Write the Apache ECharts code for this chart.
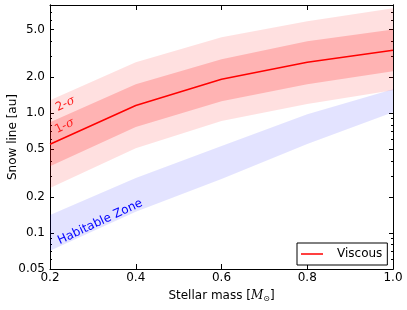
<!DOCTYPE html>
<html>
<head>
<meta charset="utf-8">
<script src="https://cdn.jsdelivr.net/npm/echarts@6/dist/echarts.min.js"></script>
<style>html,body{margin:0;padding:0;background:#fff}#c{width:407px;height:310px}</style>
</head>
<body>
<div id="c"></div>
<script>
// ---- data ----
const mass = [0.2, 0.4, 0.6, 0.8, 1.0];
const snowLine = [0.55, 1.16, 1.92, 2.66, 3.35];
const sigma1Low = [0.36, 0.765, 1.26, 1.74, 2.24];
const sigma1High = [0.84, 1.74, 2.82, 3.98, 5.0];
const sigma2Low = [0.237, 0.51, 0.86, 1.19, 1.55];
const sigma2High = [1.28, 2.66, 4.3, 5.84, 7.5];
const hzInner = [0.071, 0.15, 0.282, 0.552, 1.02];
const hzOuter = [0.141, 0.287, 0.531, 0.98, 1.58];
const xTicks = [0.2, 0.4, 0.6, 0.8, 1.0];
const yMajorTicks = [0.05, 0.1, 0.2, 0.5, 1, 2, 5];
const yMinorTicks = [0.06, 0.07, 0.08, 0.09, 0.3, 0.4, 0.6, 0.7, 0.8, 0.9, 3, 4, 6, 7, 8];

const FONT = 'DejaVu Sans';
const chart = echarts.init(document.getElementById('c'), null, {renderer: 'canvas'});

function band(lower, upper, color) {
  return {
    type: 'custom', xAxisIndex: 0, yAxisIndex: 0, clip: true, silent: true,
    data: [[mass[0], lower[0]]],
    encode: {x: 0, y: 1},
    renderItem: function (params, api) {
      const pts = [];
      for (let i = 0; i < mass.length; i++) pts.push(api.coord([mass[i], upper[i]]));
      for (let i = mass.length - 1; i >= 0; i--) pts.push(api.coord([mass[i], lower[i]]));
      return {type: 'polygon', shape: {points: pts}, style: {fill: color}};
    }
  };
}

function yAx(pos, ticks, len, labels) {
  return {
    type: 'log', logBase: 10, min: 0.05, max: 8, position: pos,
    axisLine: {show: true, lineStyle: {color: '#000', width: 1}},
    axisTick: {show: true, inside: true, length: len, customValues: ticks, lineStyle: {color: '#000'}},
    axisLabel: labels ? {show: true, customValues: ticks, margin: 5, color: '#000', fontFamily: FONT, fontSize: 12,
      formatter: v => (v < 0.095 ? v.toFixed(2) : v.toFixed(1))} : {show: false},
    splitLine: {show: false}, minorTick: {show: false}
  };
}

const option = {
  animation: false,
  backgroundColor: '#fff',
  textStyle: {fontFamily: FONT},
  grid: {left: 50, top: 5, width: 343, height: 264, containLabel: false, outerBoundsMode: 'none'},
  legend: {
    left: 297, top: 243, orient: 'horizontal',
    padding: [5, 5, 5, 4], borderColor: '#000', borderWidth: 1, borderRadius: 0,
    backgroundColor: '#fff', itemWidth: 22, itemHeight: 12, itemGap: 5,
    textStyle: {fontFamily: FONT, fontSize: 12, color: '#000', padding: [0, 0, 0, 9]},
    data: [{name: 'Viscous', icon: 'path://M0,0 L22,0 L22,1.5 L0,1.5 Z'}]
  },
  xAxis: [{
    type: 'value', min: 0.2, max: 1.0, position: 'bottom',
    name: 'Stellar mass [{i|M}{s|⊙}]', nameLocation: 'middle', nameGap: 20, nameMoveOverlap: false,
    nameTextStyle: {fontFamily: FONT, fontSize: 12, color: '#000',
      rich: {i: {fontFamily: 'DejaVu Serif', fontStyle: 'italic', fontSize: 12, color: '#000'},
             s: {fontSize: 8, color: '#000', verticalAlign: 'bottom', padding: [6, 0, 0, 0]}}},
    axisLine: {show: true, lineStyle: {color: '#000', width: 1}},
    axisTick: {show: true, inside: true, length: 5, customValues: xTicks, lineStyle: {color: '#000'}},
    axisLabel: {show: true, customValues: xTicks, margin: 3, color: '#000', fontFamily: FONT, fontSize: 12,
      formatter: v => v.toFixed(1)},
    splitLine: {show: false}
  }, {
    type: 'value', min: 0.2, max: 1.0, position: 'top',
    axisLine: {show: true, lineStyle: {color: '#000', width: 1}},
    axisTick: {show: true, inside: true, length: 5, customValues: xTicks, lineStyle: {color: '#000'}},
    axisLabel: {show: false}, splitLine: {show: false}
  }],
  yAxis: [
    Object.assign(yAx('left', yMajorTicks, 4, true), {
      name: 'Snow line [au]', nameLocation: 'middle', nameGap: 31, nameMoveOverlap: false,
      nameTextStyle: {fontFamily: FONT, fontSize: 12, color: '#000'}
    }),
    yAx('left', yMinorTicks, 2, false),
    yAx('right', yMajorTicks, 4, false),
    yAx('right', yMinorTicks, 2, false)
  ],
  series: [
    band(sigma2Low, sigma2High, 'rgba(255,0,0,0.12)'),
    band(sigma1Low, sigma1High, 'rgba(255,0,0,0.2)'),
    band(hzInner, hzOuter, 'rgba(0,0,255,0.11)'),
    {
      name: 'Viscous', type: 'line', xAxisIndex: 0, yAxisIndex: 0,
      data: mass.map((m, i) => [m, snowLine[i]]),
      symbol: 'none', showSymbol: false, silent: true,
      lineStyle: {color: '#ff0000', width: 1.5}, itemStyle: {color: '#ff0000'}
    }
  ]
};
chart.setOption(option);

// text annotations anchored in data coordinates
const notes = [
  {t: '2-{g|σ}', x: 0.236, y: 1.19, c: '#ff2020', s: 12, r: 26},
  {t: '1-{g|σ}', x: 0.234, y: 0.78, c: '#ff2020', s: 12, r: 26},
  {t: 'Habitable Zone', x: 0.317, y: 0.1235, c: '#0000ff', s: 12, r: 25}
];
chart.setOption({
  graphic: notes.map(n => {
    const p = chart.convertToPixel({gridIndex: 0}, [n.x, n.y]);
    return {type: 'text', x: p[0], y: p[1], rotation: n.r * Math.PI / 180, z: 100, silent: true,
      style: {text: n.t, fill: n.c, fontFamily: FONT, fontSize: n.s, align: 'center', verticalAlign: 'middle',
        rich: {g: {fontFamily: 'DejaVu Serif', fontStyle: 'italic', fontSize: n.s, fill: n.c}}}};
  })
});
</script>
</body>
</html>
